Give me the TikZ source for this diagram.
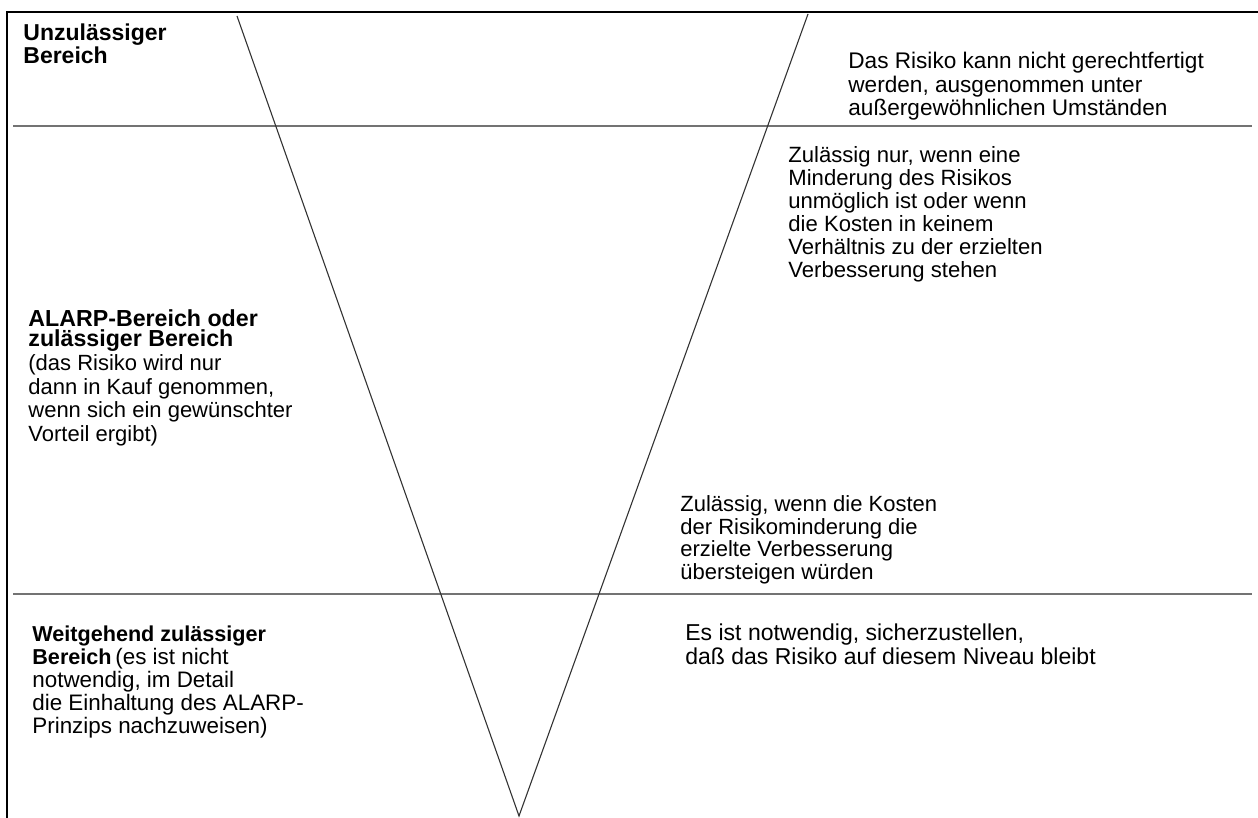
\documentclass[tikz,border=0pt]{standalone}
\usepackage{fontspec}
\setmainfont{Liberation Sans}
\begin{document}
\begin{tikzpicture}[x=0.5pt,y=-0.5pt,
  frame/.style={line width=1pt,black},
  band/.style={line width=0.65pt,draw=black!55},
  vline/.style={line width=0.55pt,draw=black!80},
  txt/.style={anchor=base west,inner sep=0pt,align=left,font=\fontsize{11pt}{11.5pt}\selectfont},
  btxt/.style={txt,font=\fontsize{11.5pt}{11.5pt}\selectfont\bfseries}]
\useasboundingbox (0,0) rectangle (1258,818);
% frame
\coordinate (fb) at (7,818);
\coordinate (fc) at (7,12);
\coordinate (fr) at (1258,12);
\draw[frame] (fb) -- (fc) -- (fr);
% horizontal band boundaries
\coordinate (h1l) at (13,126);
\coordinate (h1r) at (1252,126);
\coordinate (h2l) at (13,594);
\coordinate (h2r) at (1252,594);
\draw[band] (h1l) -- (h1r);
\draw[band] (h2l) -- (h2r);
% the V
\coordinate (vl) at (237,16);
\coordinate (vr) at (808,14);
\coordinate (vb) at (519,816);
\draw[vline] (vl) -- (vb) -- (vr);
% texts (anchor = baseline of the last line)
\node[btxt] (unz) at (23,64) {Unzulässiger\\Bereich};
\node[txt,font=\fontsize{11.3pt}{11.75pt}\selectfont] (unzt) at (848,116) {Das Risiko kann nicht gerechtfertigt\\werden, ausgenommen unter\\außergewöhnlichen Umständen};
\node[txt,font=\fontsize{11.05pt}{11.5pt}\selectfont] (zul1) at (788,278) {Zulässig nur, wenn eine\\Minderung des Risikos\\unmöglich ist oder wenn\\die Kosten in keinem\\Verhältnis zu der erzielten\\Verbesserung stehen};
\node[btxt,font=\fontsize{11.6pt}{9.5pt}\selectfont\bfseries] (alarp) at (28,346) {ALARP-Bereich oder\\zulässiger Bereich};
\node[txt,font=\fontsize{11pt}{11.75pt}\selectfont] (alarpt) at (28,441) {(das Risiko wird nur\\dann in Kauf genommen,\\wenn sich ein gewünschter\\Vorteil ergibt)};
\node[txt,font=\fontsize{11pt}{11.25pt}\selectfont] (zul2) at (680,579) {Zulässig, wenn die Kosten\\der Risikominderung die\\erzielte Verbesserung\\übersteigen würden};
\node[txt,font=\fontsize{11.2pt}{10.25pt}\selectfont] (weit) at (32,733) {{\fontsize{10.8pt}{10.25pt}\selectfont\bfseries Weitgehend zulässiger}\\{\fontsize{10.8pt}{10.25pt}\selectfont\bfseries Bereich}\,(es ist nicht\\notwendig, im Detail\\die Einhaltung des ALARP-\\Prinzips nachzuweisen)};
\node[txt,font=\fontsize{11.5pt}{12pt}\selectfont] (es) at (685,664) {Es ist notwendig, sicherzustellen,\\daß das Risiko auf diesem Niveau bleibt};
\end{tikzpicture}
\end{document}
